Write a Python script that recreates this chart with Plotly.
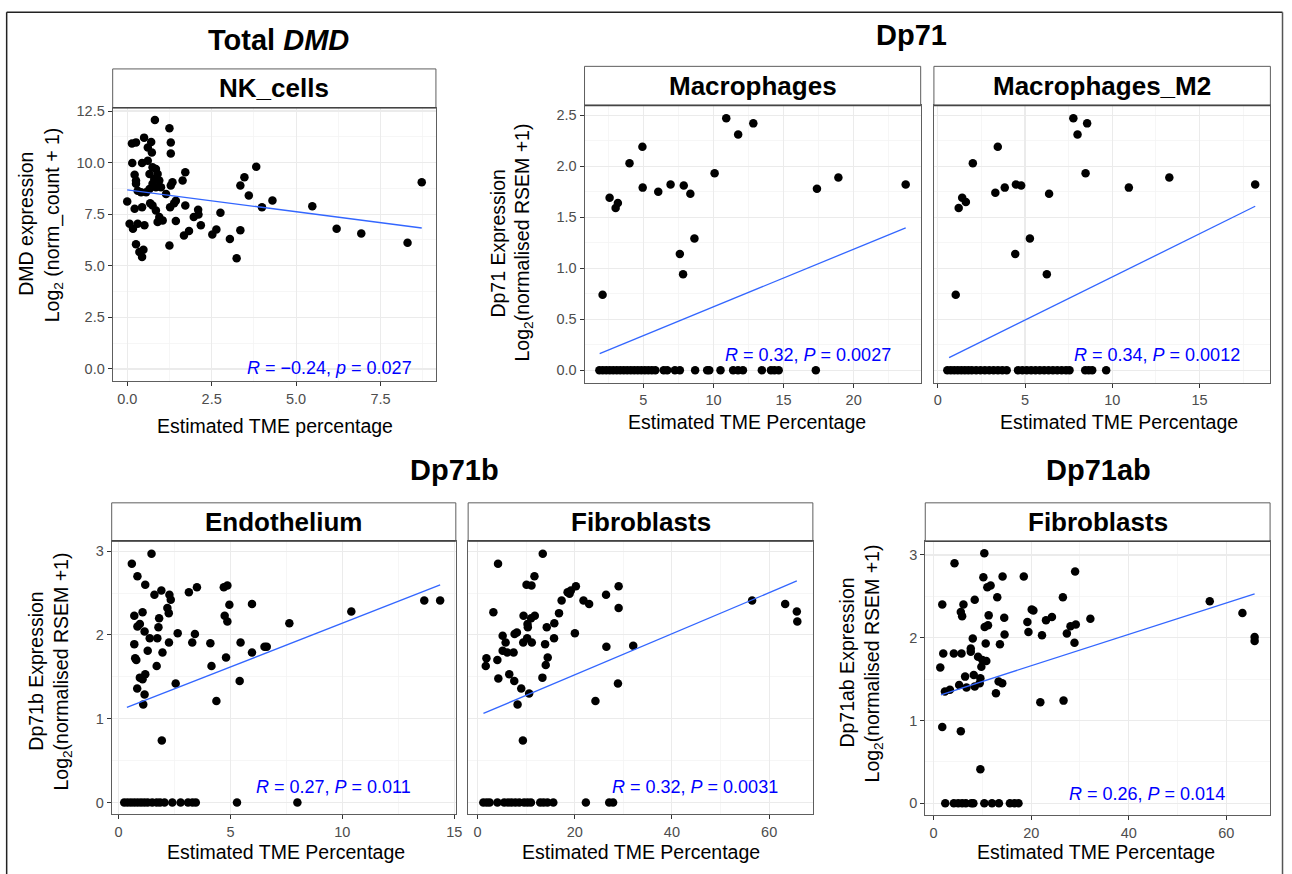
import plotly.graph_objects as go

W, H = 1292, 874
FONT = "Liberation Sans, Arial, Helvetica, sans-serif"

# ---------------- Data ----------------
# Total DMD – NK_cells
nk_x = [0.82, 1.25, 0.14, 0.26, 0.50, 0.71, 0.61, 0.73, 1.29, 1.29, 0.15, 0.44, 0.61, 0.22, 0.26,
        0.26, 0.75, 0.85, 0.66, 0.90, 0.80, 0.95, 0.75, 0.85, 1.00, 0.66, 1.34, 1.29, 1.72, 1.64,
        0.31, 0.41, 0.56, 1.15, 0.00, 1.44, 1.39, 0.68, 0.75, 0.44, 0.22, 1.27, 1.72, 0.85, 0.95,
        1.05, 0.90, 1.44, 2.10, 2.11, 1.97, 2.18, 0.07, 0.17, 0.31, 0.51, 1.68, 1.83, 2.52, 2.64,
        2.76, 0.26, 0.36, 0.48, 0.44, 1.25, 3.04, 3.35, 3.24, 3.35, 3.47, 3.82, 3.60, 3.99, 4.30,
        5.48, 6.20, 6.93, 8.30, 8.72]
nk_y = [12.07, 11.66, 10.93, 10.98, 11.21, 11.00, 10.73, 10.49, 10.97, 10.44, 9.98, 9.98, 10.09, 9.41, 9.13,
        8.97, 9.77, 9.69, 9.45, 9.45, 9.21, 9.13, 8.97, 8.81, 8.81, 8.72, 9.05, 8.89, 9.53, 9.13,
        8.64, 8.56, 8.56, 8.48, 8.11, 8.15, 8.03, 8.03, 7.92, 7.84, 7.76, 7.84, 7.92, 7.68, 7.36,
        7.20, 7.12, 7.17, 7.71, 7.49, 7.36, 6.96, 7.04, 6.80, 7.04, 6.96, 6.47, 6.68, 6.52, 6.76,
        7.57, 6.04, 5.67, 5.78, 5.43, 5.98, 6.30, 6.72, 5.37, 8.89, 9.29, 9.80, 8.40, 7.84, 8.16,
        7.89, 6.80, 6.56, 6.12, 9.05]
nk_fit_x = [0.0, 8.72]
nk_fit_y = [8.68, 6.83]

# Dp71 – Macrophages
mac_x = [2.09, 2.59, 3.02, 3.18, 4.01, 4.93, 4.95, 6.06, 6.94, 7.88, 8.35, 7.60, 7.83, 8.64, 10.08,
         10.91, 11.76, 12.84, 17.38, 18.91, 23.71,
         1.86, 2.10, 2.35, 2.60, 2.85, 3.10, 3.35, 3.60, 3.85, 4.10, 4.35, 4.60, 4.85, 5.10, 5.35,
         5.60, 5.85, 6.45, 6.70, 7.25, 7.60, 8.69, 9.55, 9.70, 10.50, 11.40, 11.75, 12.10, 13.45,
         14.10, 14.35, 14.65, 17.30]
mac_y = [0.74, 1.69, 1.59, 1.64, 2.03, 2.19, 1.79, 1.75, 1.82, 1.81, 1.73, 1.14, 0.94, 1.29, 1.93,
         2.47, 2.31, 2.42, 1.78, 1.89, 1.82,
         0.0, 0.0, 0.0, 0.0, 0.0, 0.0, 0.0, 0.0, 0.0, 0.0, 0.0, 0.0, 0.0, 0.0, 0.0,
         0.0, 0.0, 0.0, 0.0, 0.0, 0.0, 0.0, 0.0, 0.0, 0.0, 0.0, 0.0, 0.0, 0.0,
         0.0, 0.0, 0.0, 0.0]
mac_fit_x = [1.88, 23.71]
mac_fit_y = [0.162, 1.396]

# Dp71 – Macrophages_M2
m2_x = [1.03, 1.20, 1.40, 1.61, 2.01, 3.30, 3.44, 3.84, 4.48, 4.78, 4.44, 5.28, 6.25, 6.38, 7.77,
        8.01, 8.56, 8.47, 10.95, 13.27, 18.19,
        0.55, 0.75, 0.95, 1.15, 1.35, 1.55, 1.75, 1.95, 2.20, 2.45, 2.70, 2.95, 3.20, 3.45, 3.70,
        3.95, 4.60, 4.85, 5.10, 5.35, 5.60, 5.85, 6.10, 6.35, 6.60, 6.85, 7.10, 7.35, 7.55,
        8.45, 8.65, 8.85, 9.65]
m2_y = [0.74, 1.59, 1.69, 1.65, 2.03, 1.74, 2.19, 1.79, 1.82, 1.81, 1.14, 1.29, 0.94, 1.73, 2.47,
        2.31, 2.42, 1.93, 1.79, 1.89, 1.82,
        0.0, 0.0, 0.0, 0.0, 0.0, 0.0, 0.0, 0.0, 0.0, 0.0, 0.0, 0.0, 0.0, 0.0, 0.0,
        0.0, 0.0, 0.0, 0.0, 0.0, 0.0, 0.0, 0.0, 0.0, 0.0, 0.0, 0.0, 0.0, 0.0,
        0.0, 0.0, 0.0, 0.0]
m2_fit_x = [0.65, 18.19]
m2_fit_y = [0.123, 1.607]

# Dp71b – Endothelium
endo_x = [1.47, 0.59, 0.84, 1.19, 1.60, 1.91, 2.27, 2.33, 2.18, 2.24, 3.14, 3.50, 4.70, 4.86, 4.95,
          5.96, 0.70, 1.07, 1.81, 0.84, 0.95, 1.16, 1.39, 1.73, 1.78, 2.64, 3.41, 3.29, 2.25, 0.70,
          4.10, 5.45, 4.74, 4.86, 7.63, 10.40, 13.66, 14.37, 1.30, 1.96, 5.96, 6.52, 6.62, 0.74, 0.79,
          1.70, 4.15, 4.80, 0.95, 1.07, 1.19, 0.83, 1.16, 1.10, 2.55, 5.41, 4.37, 1.93,
          0.25, 0.40, 0.55, 0.70, 0.85, 1.00, 1.15, 1.30, 1.50, 1.70, 1.85, 2.05, 2.40, 2.77, 3.10,
          3.30, 3.45, 5.29, 7.99]
endo_y = [2.97, 2.85, 2.70, 2.60, 2.48, 2.53, 2.48, 2.42, 2.32, 2.26, 2.51, 2.57, 2.57, 2.59, 2.36,
          2.37, 2.23, 2.27, 2.20, 2.10, 2.13, 2.04, 1.96, 1.96, 2.09, 2.02, 2.01, 1.91, 1.91, 1.89,
          1.90, 1.91, 2.23, 2.16, 2.14, 2.28, 2.41, 2.41, 1.81, 1.79, 1.79, 1.86, 1.86, 1.72, 1.70,
          1.63, 1.63, 1.73, 1.49, 1.47, 1.53, 1.36, 1.29, 1.17, 1.42, 1.45, 1.21, 0.74,
          0.0, 0.0, 0.0, 0.0, 0.0, 0.0, 0.0, 0.0, 0.0, 0.0, 0.0, 0.0, 0.0, 0.0, 0.0,
          0.0, 0.0, 0.0, 0.0]
endo_fit_x = [0.37, 14.37]
endo_fit_y = [1.134, 2.597]

# Dp71b – Fibroblasts
fb_x = [13.43, 4.23, 11.72, 10.09, 11.11, 20.25, 19.22, 18.54, 18.95, 29.04, 26.45, 17.31, 21.81, 22.97, 29.04,
        56.5, 63.3, 65.7, 65.8, 3.27, 9.48, 11.04, 11.79, 16.77, 10.29, 10.36, 14.25, 15.81, 5.18, 7.63,
        8.11, 20.04, 5.79, 9.41, 10.22, 11.18, 13.91, 15.75, 26.52, 32.04, 5.18, 6.13, 7.43, 1.84, 1.70,
        4.09, 14.45, 14.04, 6.54, 4.29, 7.57, 13.36, 9.00, 10.63, 8.25, 28.9, 24.27, 9.34,
        1.2, 1.9, 2.5, 4.1, 5.5, 6.3, 7.0, 7.8, 8.6, 9.6, 10.3, 11.0, 12.9, 13.6, 14.4,
        15.6, 22.3, 27.1, 27.9]
fb_y = [2.97, 2.85, 2.70, 2.60, 2.59, 2.58, 2.53, 2.51, 2.49, 2.58, 2.48, 2.41, 2.41, 2.37, 2.32,
        2.41, 2.37, 2.28, 2.16, 2.27, 2.23, 2.20, 2.23, 2.26, 2.13, 2.09, 2.09, 2.14, 1.99, 2.01,
        2.03, 2.02, 1.91, 1.91, 1.96, 1.91, 1.89, 1.96, 1.86, 1.87, 1.81, 1.79, 1.79, 1.72, 1.63,
        1.70, 1.73, 1.64, 1.53, 1.48, 1.45, 1.49, 1.36, 1.30, 1.17, 1.42, 1.21, 0.74,
        0.0, 0.0, 0.0, 0.0, 0.0, 0.0, 0.0, 0.0, 0.0, 0.0, 0.0, 0.0, 0.0, 0.0, 0.0,
        0.0, 0.0, 0.0, 0.0]
fb_fit_x = [1.23, 65.7]
fb_fit_y = [1.063, 2.644]

# Dp71ab – Fibroblasts
ab_x = [10.39, 4.28, 29.0, 10.19, 14.13, 18.48, 11.0, 11.68, 8.42, 13.04, 26.49, 1.77, 6.11, 56.6, 63.3,
        5.57, 5.84, 11.28, 14.47, 20.1, 20.45, 24.25, 23.03, 32.13, 19.22, 29.14, 28.06, 11.14, 10.46, 19.43,
        22.21, 27.31, 14.54, 65.8, 65.8, 28.87, 8.02, 10.67, 13.59, 1.97, 4.14, 5.71, 7.61, 7.61, 9.1,
        9.99, 10.8, 1.36, 9.78, 6.45, 8.22, 9.58, 5.23, 6.73, 8.42, 9.44, 13.32, 14.06, 2.31, 3.33,
        12.77, 21.87, 26.63, 1.77, 5.57, 9.58,
        2.38, 4.14, 5.03, 5.84, 6.59, 7.74, 8.15, 10.39, 11.96, 13.38, 15.63, 16.58, 17.39]
ab_y = [3.02, 2.90, 2.80, 2.73, 2.74, 2.74, 2.61, 2.63, 2.46, 2.49, 2.49, 2.40, 2.40, 2.44, 2.30,
        2.31, 2.26, 2.27, 2.24, 2.34, 2.33, 2.25, 2.21, 2.23, 2.19, 2.16, 2.14, 2.15, 2.13, 2.07,
        2.03, 2.05, 2.04, 2.01, 1.96, 1.94, 1.99, 1.93, 1.92, 1.81, 1.81, 1.81, 1.87, 1.83, 1.77,
        1.73, 1.72, 1.64, 1.65, 1.53, 1.55, 1.51, 1.43, 1.40, 1.41, 1.45, 1.47, 1.45, 1.35, 1.37,
        1.33, 1.22, 1.24, 0.92, 0.87, 0.41,
        0.0, 0.0, 0.0, 0.0, 0.0, 0.0, 0.0, 0.0, 0.0, 0.0, 0.0, 0.0, 0.0]
ab_fit_x = [1.49, 65.8]
ab_fit_y = [1.31, 2.53]

# ---------------- Panel layout (pixel geometry) ----------------
panels = [
    dict(x=nk_x, y=nk_y, fx=nk_fit_x, fy=nk_fit_y, strip="NK_cells",
         l=113.3, r=438.3, st=64.3, t=103.3, b=378.3,
         xr=[-0.43, 9.14], yr=[-0.59, 12.66], xd=2.5, yd=2.5, xfmt=".1f", yfmt=".1f", ylab=True,
         ann="<i>R</i> = \u22120.24, <i>p</i> = 0.027", ax_px=246.5, ay_px=365),
    dict(x=mac_x, y=mac_y, fx=mac_fit_x, fy=mac_fit_y, strip="Macrophages",
         l=587.7, r=925.7, st=61.7, t=101.0, b=380.0,
         xr=[0.80, 24.78], yr=[-0.124, 2.596], xd=5, yd=0.5, xfmt="d", yfmt=".1f", ylab=True,
         ann="<i>R</i> = 0.32, <i>P</i> = 0.0027", ax_px=726.5, ay_px=351.7),
    dict(x=m2_x, y=m2_y, fx=m2_fit_x, fy=m2_fit_y, strip="Macrophages_M2",
         l=939.0, r=1277.3, st=61.7, t=101.0, b=380.0,
         xr=[-0.22, 19.06], yr=[-0.124, 2.596], xd=5, yd=0.5, xfmt="d", yfmt=".1f", ylab=False,
         ann="<i>R</i> = 0.34, <i>P</i> = 0.0012", ax_px=1078, ay_px=351.7),
    dict(x=endo_x, y=endo_y, fx=endo_fit_x, fy=endo_fit_y, strip="Endothelium",
         l=112.3, r=458.3, st=500.7, t=539.0, b=814.0,
         xr=[-0.31, 15.07], yr=[-0.142, 3.122], xd=5, yd=1, xfmt="d", yfmt="d", ylab=True,
         ann="<i>R</i> = 0.27, <i>P</i> = 0.011", ax_px=255, ay_px=786.7),
    dict(x=fb_x, y=fb_y, fx=fb_fit_x, fy=fb_fit_y, strip="Fibroblasts",
         l=470.7, r=817.3, st=500.7, t=539.0, b=814.0,
         xr=[-1.92, 69.0], yr=[-0.142, 3.122], xd=20, yd=1, xfmt="d", yfmt="d", ylab=False,
         ann="<i>R</i> = 0.32, <i>P</i> = 0.0031", ax_px=613.3, ay_px=786.7),
    dict(x=ab_x, y=ab_y, fx=ab_fit_x, fy=ab_fit_y, strip="Fibroblasts",
         l=930.3, r=1277.0, st=500.7, t=539.3, b=815.0,
         xr=[-1.72, 68.97], yr=[-0.146, 3.166], xd=20, yd=1, xfmt="d", yfmt="d", ylab=True,
         ann="<i>R</i> = 0.26, <i>P</i> = 0.014", ax_px=1072.7, ay_px=793.3),
]


def px(xp):
    return xp / W


def py(yp):
    return 1 - yp / H


fig = go.Figure()
shapes = []
annotations = []

TICKC = "#4D4D4D"
BORDER = "#5E5E5E"
GRID = "#EBEBEB"
MINOR = "#F4F4F4"

for i, p in enumerate(panels, start=1):
    xa = "x" if i == 1 else f"x{i}"
    ya = "y" if i == 1 else f"y{i}"
    fig.add_trace(go.Scatter(x=p["x"], y=p["y"], mode="markers", xaxis=xa, yaxis=ya,
                             marker=dict(color="black", size=8.5, line=dict(width=0)),
                             showlegend=False, hoverinfo="skip"))
    fig.add_trace(go.Scatter(x=p["fx"], y=p["fy"], mode="lines", xaxis=xa, yaxis=ya,
                             line=dict(color="#3366FF", width=1.3),
                             showlegend=False, hoverinfo="skip"))
    common = dict(showline=True, mirror=True, linecolor=BORDER, linewidth=1,
                  showgrid=True, gridcolor=GRID, gridwidth=1.1, zeroline=False,
                  tickfont=dict(family=FONT, size=14.5, color=TICKC),
                  tickmode="linear", tick0=0, fixedrange=True)
    xkey = "xaxis" if i == 1 else f"xaxis{i}"
    ykey = "yaxis" if i == 1 else f"yaxis{i}"
    fig.update_layout({
        xkey: dict(common, domain=[px(p["l"]), px(p["r"])], range=p["xr"], dtick=p["xd"],
                   tickformat=p["xfmt"], anchor=ya, ticks="outside", ticklen=4, tickcolor="#333",
                   minor=dict(dtick=p["xd"] / 2, tick0=0, showgrid=True, gridcolor=MINOR, gridwidth=0.8)),
        ykey: dict(common, domain=[py(p["b"]), py(p["t"])], range=p["yr"], dtick=p["yd"],
                   tickformat=p["yfmt"], anchor=xa,
                   ticks="outside" if p["ylab"] else "", ticklen=4, tickcolor="#333",
                   showticklabels=p["ylab"],
                   minor=dict(dtick=p["yd"] / 2, tick0=0, showgrid=True, gridcolor=MINOR, gridwidth=0.8)),
    })
    # strip
    shapes.append(dict(type="rect", xref="paper", yref="paper",
                       x0=px(p["l"]), x1=px(p["r"]), y0=py(p["t"]), y1=py(p["st"]),
                       fillcolor="white", line=dict(color=BORDER, width=1), layer="above"))
    shapes.append(dict(type="line", xref="paper", yref="paper",
                       x0=px(p["l"]), x1=px(p["r"]), y0=py(p["t"]), y1=py(p["t"]),
                       line=dict(color="#444444", width=1.6), layer="above"))
    annotations.append(dict(text="<b>" + p["strip"] + "</b>", xref="paper", yref="paper",
                            x=px((p["l"] + p["r"]) / 2), y=py((p["st"] + p["t"]) / 2),
                            xanchor="center", yanchor="middle", showarrow=False,
                            font=dict(family=FONT, size=26, color="black")))
    # correlation annotation
    annotations.append(dict(text=p["ann"], xref="paper", yref="paper",
                            x=px(p["ax_px"]), y=py(p["ay_px"]), xanchor="left", yanchor="middle",
                            showarrow=False, font=dict(family=FONT, size=18, color="#0000FF")))

# Group titles
for txt, cx, cy in [("<b>Total <i>DMD</i></b>", 280, 35), ("<b>Dp71</b>", 916, 30),
                    ("<b>Dp71b</b>", 456.5, 468), ("<b>Dp71ab</b>", 1104, 468)]:
    annotations.append(dict(text=txt, xref="paper", yref="paper", x=px(cx), y=py(cy),
                            xanchor="center", yanchor="middle", showarrow=False,
                            font=dict(family=FONT, size=29, color="black")))

# X axis titles
for txt, cx, cy in [("Estimated TME percentage", 276.3, 423),
                    ("Estimated TME Percentage", 751, 419),
                    ("Estimated TME Percentage", 1125, 419),
                    ("Estimated TME Percentage", 287.3, 852),
                    ("Estimated TME Percentage", 644.3, 852),
                    ("Estimated TME Percentage", 1102.3, 852)]:
    annotations.append(dict(text=txt, xref="paper", yref="paper", x=px(cx), y=py(cy),
                            xanchor="center", yanchor="middle", showarrow=False,
                            font=dict(family=FONT, size=19.5, color="black")))

# Y axis titles (two lines each)
for txt, cx, cy in [("DMD expression", 26.7, 220.5),
                    ("Log<sub>2</sub> (norm_count + 1)", 53.3, 221.5),
                    ("Dp71 Expression", 500.7, 239),
                    ("Log<sub>2</sub>(normalised RSEM +1)", 526.7, 239),
                    ("Dp71b Expression", 36.7, 670),
                    ("Log<sub>2</sub>(normalised RSEM +1)", 62.7, 670),
                    ("Dp71ab Expression", 852, 661),
                    ("Log<sub>2</sub>(normalised RSEM +1)", 878, 662)]:
    annotations.append(dict(text=txt, xref="paper", yref="paper", x=px(cx), y=py(cy),
                            xanchor="center", yanchor="middle", showarrow=False, textangle=-90,
                            font=dict(family=FONT, size=19.5, color="black")))

# outer frame (left, top, right)
shapes.append(dict(type="line", xref="paper", yref="paper", x0=px(6.7), x1=px(6.7),
                   y0=0, y1=py(7.3), line=dict(color="#222222", width=1.5)))
shapes.append(dict(type="line", xref="paper", yref="paper", x0=px(6.7), x1=px(1289.5),
                   y0=py(7.3), y1=py(7.3), line=dict(color="#222222", width=1.5)))
shapes.append(dict(type="line", xref="paper", yref="paper", x0=px(1289.5), x1=px(1289.5),
                   y0=0, y1=py(7.3), line=dict(color="#555555", width=1.5)))

fig.update_layout(width=W, height=H, autosize=False,
                  margin=dict(l=0, r=0, t=0, b=0, pad=0),
                  paper_bgcolor="white", plot_bgcolor="white",
                  font=dict(family=FONT, color="black"),
                  shapes=shapes, annotations=annotations, showlegend=False)

fig.write_html("out.html",
               config={"displayModeBar": False, "staticPlot": True},
               post_script="document.documentElement.style.margin='0';"
                           "document.body.style.margin='0';document.body.style.padding='0';"
                           "document.body.style.overflow='hidden';"
                           "var gd=document.getElementById('{plot_id}');"
                           "gd.style.position='fixed';gd.style.left='0px';gd.style.top='0px';")
